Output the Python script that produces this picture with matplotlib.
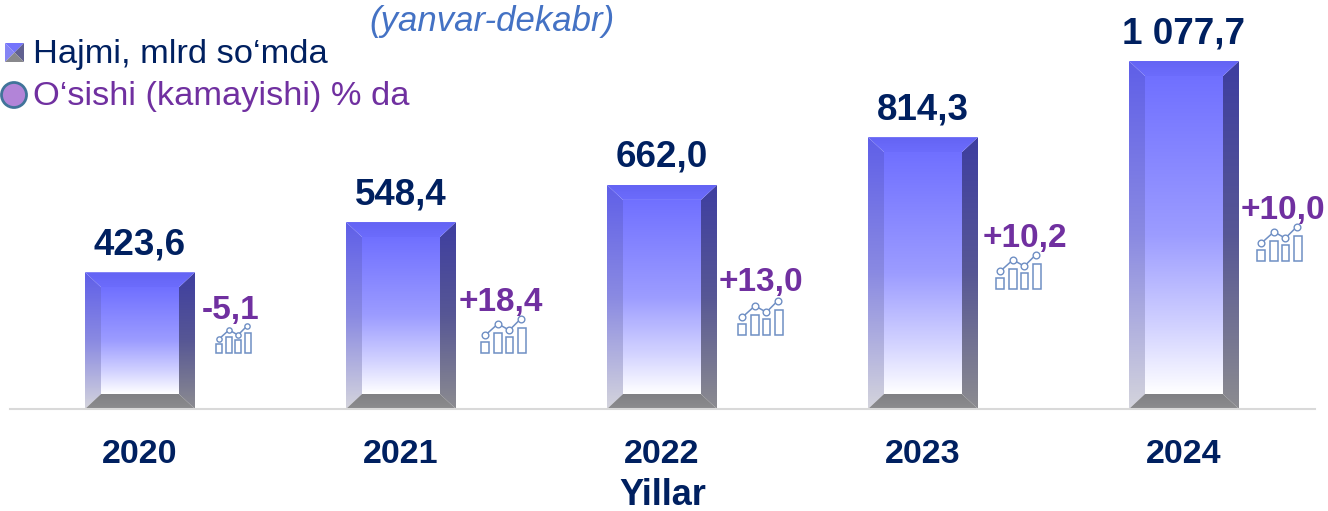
import numpy as np
import matplotlib
matplotlib.use("Agg")
import matplotlib.pyplot as plt
from matplotlib.colors import LinearSegmentedColormap
from matplotlib.patches import Polygon, Circle, Rectangle

plt.rcParams['font.family'] = ['Liberation Sans', 'DejaVu Sans']

years = ["2020", "2021", "2022", "2023", "2024"]
volume_labels = ["423,6", "548,4", "662,0", "814,3", "1 077,7"]
growth_labels = ["-5,1", "+18,4", "+13,0", "+10,2", "+10,0"]
# the bars in the source are not quite to scale, so these are read off the
# picture on the same axis instead of being taken from the printed labels
bar_heights = [423.6, 579.0, 694.0, 842.0, 1077.7]

# where the growth text and the small icon sit, in pixels
growth_xy = [(231, 311), (501, 303), (761, 282), (1025, 239), (1283, 210)]
icon_xy = [(233, 338), (503, 334), (760, 316), (1018, 270), (1279, 242)]
icon_scale = [1.0, 1.27, 1.27, 1.27, 1.27]

NAVY = "#002060"
PURPLE = "#7030a0"
ICON = "#6f8fc4"

W, H = 1328, 511
base_y = 409
px_per_unit = 0.3229
bar_w = 110 / 261
bevel_x = 16 / 261
bevel_y = 15 / px_per_unit

face_cm = LinearSegmentedColormap.from_list(
    "face", [(0, "#7070ff"), (0.5, "#9c9cff"), (0.8, "#d4d4ff"), (1, "#ffffff")])
left_cm = LinearSegmentedColormap.from_list("left", ["#5f5fe8", "#8a8ae2", "#d4d4dc"])
right_cm = LinearSegmentedColormap.from_list("right", ["#3e3ea0", "#575795", "#8c8c90"])
top_cm = LinearSegmentedColormap.from_list("top", ["#6464f4", "#6c6cfc"])
bottom_cm = LinearSegmentedColormap.from_list("bottom", ["#808084", "#8c8c8e"])

fig = plt.figure(figsize=(W / 100, H / 100), dpi=100)
ax = fig.add_axes([10 / W, (H - base_y) / H, 1305 / W, base_y / H])
ov = fig.add_axes([0, 0, 1, 1], zorder=5)
ov.set_xlim(0, W)
ov.set_ylim(H, 0)
ov.axis("off")
ov.patch.set_alpha(0)

grad = np.linspace(0, 1, 256).reshape(-1, 1)


def shaded(a, cmap, verts, x0, x1, y0, y1):
    # vertical gradient clipped to one face of the bar
    im = a.imshow(grad, cmap=cmap, extent=(x0, x1, y0, y1), origin="upper",
                  aspect="auto", interpolation="bilinear", zorder=2)
    clip = Polygon(verts, closed=True, transform=a.transData, fc="none", ec="none")
    a.add_patch(clip)
    im.set_clip_path(clip)


for i, h in enumerate(bar_heights):
    x0, x1 = i - bar_w / 2, i + bar_w / 2
    ix0, ix1 = x0 + bevel_x, x1 - bevel_x
    iy0, iy1 = bevel_y, h - bevel_y
    shaded(ax, face_cm, [(ix0, iy0), (ix1, iy0), (ix1, iy1), (ix0, iy1)], ix0, ix1, iy0, iy1)
    shaded(ax, left_cm, [(x0, 0), (ix0, iy0), (ix0, iy1), (x0, h)], x0, ix0, 0, h)
    shaded(ax, right_cm, [(x1, 0), (ix1, iy0), (ix1, iy1), (x1, h)], ix1, x1, 0, h)
    shaded(ax, top_cm, [(x0, h), (x1, h), (ix1, iy1), (ix0, iy1)], x0, x1, iy1, h)
    shaded(ax, bottom_cm, [(x0, 0), (x1, 0), (ix1, iy0), (ix0, iy0)], x0, x1, 0, iy0)
    ax.annotate(volume_labels[i], xy=(i, h), xytext=(0, 27.5 * 0.72), textcoords="offset points",
                ha="center", va="center", fontsize=26.5, fontweight="bold", color=NAVY,
                annotation_clip=False)

ax.set_xlim((10 - 140) / 261, (1315 - 140) / 261)
ax.set_ylim(0, base_y / px_per_unit)
ax.patch.set_alpha(0)
for s in ["top", "left", "right"]:
    ax.spines[s].set_visible(False)
ax.spines["bottom"].set_color("#d9d9d9")
ax.spines["bottom"].set_linewidth(1.5)
ax.set_yticks([])
ax.set_xticks(range(len(years)), years)
ax.tick_params(axis="x", length=0, pad=21.5, labelsize=24.5, labelcolor=NAVY)
for t in ax.get_xticklabels():
    t.set_fontweight("bold")
ax.set_xlabel("Yillar", fontsize=26, fontweight="bold", color=NAVY, labelpad=6)


def draw_icon(cx, cy, k):
    # small bar chart with a line over it
    for dx, top in zip([-17, -7, 2, 12], [6, -1, 2, -5]):
        ov.add_patch(Rectangle((cx + k * dx, cy + k * top), k * 6, k * (15 - top),
                               fc="white", ec=ICON, lw=1.1))
    xs = [cx + k * d for d in [-14, -4, 5, 14]]
    ys = [cy + k * d for d in [1, -8, -3, -12]]
    ov.plot(xs, ys, color=ICON, lw=1.1, marker="o", ms=3.8 * k, mfc="white", mec=ICON, mew=1)


for lab, (x, y) in zip(growth_labels, growth_xy):
    ov.text(x, y, lab, ha="center", va="center", fontsize=24, fontweight="bold", color=PURPLE)
for (x, y), k in zip(icon_xy, icon_scale):
    draw_icon(x, y, k)

ov.text(369, 22, "(yanvar-dekabr)", ha="left", va="center", fontsize=25,
        style="italic", color="#4472c4")

# legend, done by hand because of the bevelled swatch
sx0, sx1, sy0, sy1 = 5, 24, 43, 62
mx, my = (sx0 + sx1) / 2, (sy0 + sy1) / 2
ov.add_patch(Polygon([(sx0, sy0), (sx1, sy0), (mx, my)], fc="#7474fc", ec="none"))
ov.add_patch(Polygon([(sx0, sy0), (sx0, sy1), (mx, my)], fc="#8484f4", ec="none"))
ov.add_patch(Polygon([(sx1, sy0), (sx1, sy1), (mx, my)], fc="#606090", ec="none"))
ov.add_patch(Polygon([(sx0, sy1), (sx1, sy1), (mx, my)], fc="#88888c", ec="none"))
ov.text(33, 55, "Hajmi, mlrd so\u2018mda", ha="left", va="center", fontsize=24.75, color=NAVY)
ov.add_patch(Circle((14, 95), 12.5, fc="#b284d8", ec="#41749a", lw=2))
ov.text(33, 97, "O\u2018sishi (kamayishi) % da", ha="left", va="center", fontsize=24.75, color=PURPLE)

fig.savefig("out.png", dpi=100)
